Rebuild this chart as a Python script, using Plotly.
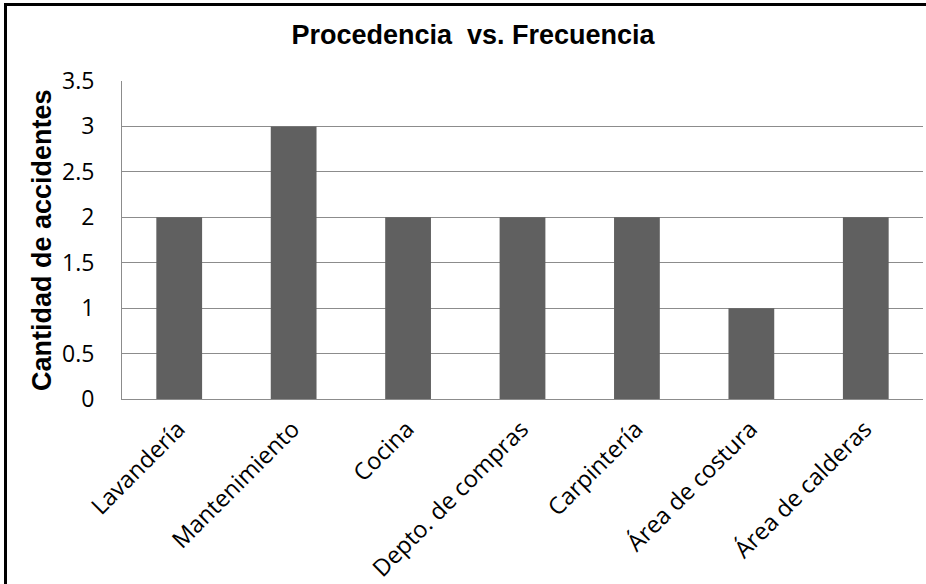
import plotly.graph_objects as go

# Accident counts by area of origin
categories = ["Lavandería", "Mantenimiento", "Cocina", "Depto. de compras",
              "Carpintería", "Área de costura", "Área de calderas"]
accidents = [2, 3, 2, 2, 2, 1, 2]
y_ticks = [0, 0.5, 1, 1.5, 2, 2.5, 3, 3.5]
y_tick_labels = ["0", "0.5", "1", "1.5", "2", "2.5", "3", "3.5"]

W, H = 926, 584
ML, MR, MT, MB = 122, 3, 81, 185
PW, PH = W - ML - MR, H - MT - MB


def px_x(px):
    return (px - ML) / PW


def px_y(py):
    return (H - MB - py) / PH


fig = go.Figure(
    go.Bar(
        x=categories,
        y=accidents,
        marker=dict(color="#606060", line=dict(width=0)),
    )
)

fig.update_layout(
    width=W,
    height=H,
    margin=dict(l=ML, r=MR, t=MT, b=MB, autoexpand=False),
    paper_bgcolor="white",
    plot_bgcolor="white",
    bargap=0.6,
    showlegend=False,
    title=dict(
        text="Procedencia \u00a0vs. Frecuencia",
        font=dict(family="Liberation Sans, Arial", size=27, color="black", weight="bold"),
        x=473 / W,
        xref="container",
        xanchor="center",
        y=1 - 35 / H,
        yref="container",
        yanchor="middle",
    ),
    xaxis=dict(
        tickangle=-45,
        tickfont=dict(family="Open Sans", size=23.5, color="black"),
        showline=True,
        linecolor="#8c8c8c",
        linewidth=1,
        showgrid=False,
        ticks="",
        ticklabelshift=-1,
        ticklabelstandoff=6,
        fixedrange=True,
    ),
    yaxis=dict(
        range=[0, 3.5],
        tickvals=y_ticks,
        ticktext=y_tick_labels,
        tickfont=dict(family="Open Sans", size=23, color="black"),
        showline=True,
        linecolor="#8c8c8c",
        linewidth=1,
        showgrid=True,
        gridcolor="#8c8c8c",
        gridwidth=1,
        zeroline=False,
        ticks="",
        ticklabelstandoff=22,
        fixedrange=True,
    ),
    annotations=[
        dict(
            text="<b>Cantidad de accidentes</b>",
            textangle=-90,
            xref="paper",
            yref="paper",
            x=px_x(42),
            y=0.5,
            xanchor="center",
            yanchor="middle",
            showarrow=False,
            font=dict(family="Liberation Sans, Arial", size=27, color="black"),
        )
    ],
    shapes=[
        # frame edges along the top and left
        dict(type="line", xref="paper", yref="paper",
             x0=px_x(5.5), x1=px_x(940), y0=px_y(4.5), y1=px_y(4.5),
             line=dict(color="black", width=3)),
        dict(type="line", xref="paper", yref="paper",
             x0=px_x(5.5), x1=px_x(5.5), y0=px_y(3), y1=px_y(600),
             line=dict(color="black", width=3)),
    ],
)

fig.write_html("out.html")
